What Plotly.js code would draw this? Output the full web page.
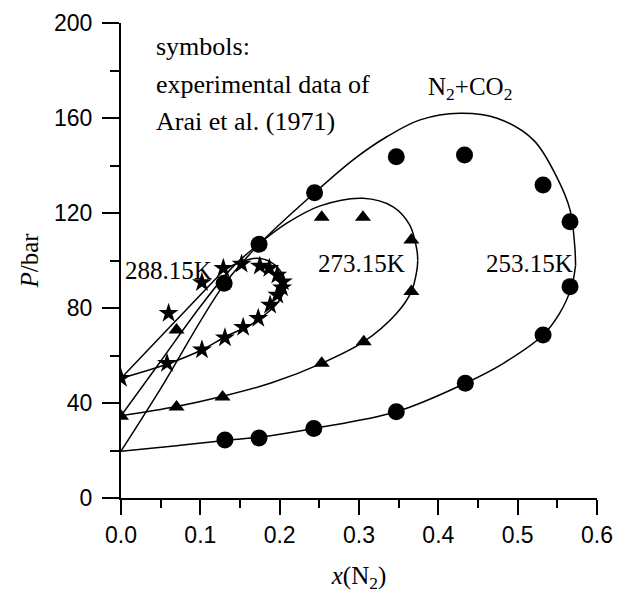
<!DOCTYPE html>
<html>
<head>
<meta charset="utf-8">
<script src="https://cdn.plot.ly/plotly-3.0.1.min.js"></script>
<style>
  html, body { margin: 0; padding: 0; background: #fff; }
  #chart { width: 618px; height: 595px; }
</style>
</head>
<body>
<div id="chart"></div>
<script>
// N2 + CO2 vapour-liquid equilibrium, P vs x(N2)

// 253.15 K experimental points
const exp253X = [0.131, 0.174, 0.243, 0.347, 0.434, 0.532, 0.566, 0.566, 0.532, 0.433, 0.347, 0.244, 0.174, 0.130];
const exp253P = [24.4, 25.3, 29.3, 36.3, 48.3, 68.6, 89.0, 116.3, 131.8, 144.4, 143.7, 128.5, 106.8, 90.4];

// 273.15 K experimental points
const exp273X = [0.0, 0.070, 0.128, 0.253, 0.306, 0.366, 0.366, 0.305, 0.253, 0.070];
const exp273P = [34.4, 38.3, 42.5, 56.7, 65.8, 86.9, 108.6, 118.2, 118.2, 70.7];

// 288.15 K experimental points
const exp288X = [0.0, 0.058, 0.102, 0.131, 0.154, 0.173, 0.188, 0.197, 0.203, 0.204, 0.197, 0.187, 0.175, 0.152, 0.129, 0.102, 0.060];
const exp288P = [50.4, 56.7, 62.4, 67.5, 71.9, 75.7, 81.3, 85.5, 88.5, 91.1, 93.9, 96.7, 97.7, 98.5, 96.7, 90.7, 77.8];

// Calculated envelopes: upper (dew) and lower (bubble) branches,
// each running from pure CO2 (x = 0) to the right-hand turning point
const dew253X = [0, 0.049, 0.128, 0.174, 0.244, 0.293, 0.335, 0.377, 0.427, 0.474, 0.52, 0.549, 0.566, 0.572, 0.573];
const dew253P = [19.7, 45.5, 89.0, 106.8, 128.5, 142.5, 152.1, 159.2, 162.0, 159.9, 150.7, 135.3, 121.3, 105.8, 98.0];
const bub253X = [0, 0.07, 0.131, 0.174, 0.243, 0.347, 0.434, 0.482, 0.532, 0.553, 0.568, 0.573];
const bub253P = [19.7, 22.0, 24.2, 25.6, 29.3, 36.3, 48.3, 56.7, 68.6, 77.8, 89.0, 98.0];

const dew273X = [0, 0.05, 0.10, 0.14, 0.174, 0.209, 0.251, 0.305, 0.343, 0.364, 0.373, 0.374];
const dew273P = [34.6, 57.6, 80.6, 97.0, 107.0, 115.7, 123.0, 126.2, 122.6, 114.9, 104.4, 100.0];
const bub273X = [0, 0.07, 0.127, 0.19, 0.253, 0.306, 0.3475, 0.366, 0.373, 0.374];
const bub273P = [34.6, 38.5, 42.7, 48.5, 56.7, 65.8, 77.8, 86.9, 96.0, 100.0];

const dew288X = [0, 0.06, 0.118, 0.13, 0.152, 0.171, 0.188, 0.2, 0.206, 0.207];
const dew288P = [50.4, 71.5, 91.8, 96.0, 99.5, 100.9, 99.5, 96.0, 92.0, 89.5];
const bub288X = [0, 0.0576, 0.1017, 0.1332, 0.1626, 0.1837, 0.197, 0.2046, 0.207];
const bub288P = [50.4, 56.3, 62.3, 68.2, 72.8, 77.8, 82.0, 86.2, 89.5];

// Axis ticks
const xTicks = [0.0, 0.1, 0.2, 0.3, 0.4, 0.5, 0.6];
const yTicks = [0, 40, 80, 120, 160, 200];

const serif = 'Liberation Serif, Times New Roman, serif';
const sans = 'Liberation Sans, Arial, sans-serif';

function curve(x, y) {
  return { x: x, y: y, mode: 'lines', type: 'scatter', hoverinfo: 'skip',
           line: { color: '#000', width: 1.5, shape: 'spline', smoothing: 1 } };
}
function points(x, y, sym, size) {
  return { x: x, y: y, mode: 'markers', type: 'scatter',
           marker: { symbol: sym, size: size, color: '#000', line: { width: 0 } } };
}

const data = [
  curve(dew253X, dew253P), curve(bub253X, bub253P),
  curve(dew273X, dew273P), curve(bub273X, bub273P),
  curve(dew288X, dew288P), curve(bub288X, bub288P),
  points(exp253X, exp253P, 'circle', 17),
  points(exp273X, exp273P, 'triangle-up', 14),
  points(exp288X, exp288P, 'star', 15)
];

function label(text, x, y, xanchor, size) {
  return { text: text, x: x, y: y, xref: 'x', yref: 'y', showarrow: false,
           xanchor: xanchor || 'center', yanchor: 'middle',
           font: { family: serif, size: size || 26, color: '#000' } };
}

const layout = {
  width: 618, height: 595,
  margin: { l: 121, r: 21, t: 23, b: 97 },
  paper_bgcolor: '#fff', plot_bgcolor: '#fff',
  showlegend: false,
  xaxis: {
    range: [0, 0.6], tickvals: xTicks, ticktext: xTicks.map(v => v.toFixed(1)),
    showgrid: false, zeroline: false, showline: true, linecolor: '#000', linewidth: 2,
    ticks: 'outside', ticklen: 15, tickwidth: 2, tickcolor: '#000',
    minor: { dtick: 0.05, ticks: 'outside', ticklen: 8, tickwidth: 2, tickcolor: '#000' },
    tickfont: { family: sans, size: 23, color: '#000' },
    title: { text: '<i>x</i>(N<sub>2</sub>)', font: { family: serif, size: 25, color: '#000' }, standoff: 20 }
  },
  yaxis: {
    range: [0, 200], tickvals: yTicks,
    showgrid: false, zeroline: false, showline: true, linecolor: '#000', linewidth: 2,
    ticks: 'outside', ticklen: 17, tickwidth: 2, tickcolor: '#000',
    minor: { dtick: 20, ticks: 'outside', ticklen: 9, tickwidth: 2, tickcolor: '#000' },
    tickfont: { family: sans, size: 23, color: '#000' },
    ticklabelstandoff: 5,
    title: { text: '<i>P</i>/bar', font: { family: serif, size: 25, color: '#000' }, standoff: 8 }
  },
  annotations: [
    label('symbols:', 0.042, 190, 'left'),
    label('experimental data of', 0.042, 174.3, 'left'),
    label('Arai et al. (1971)', 0.042, 158.7, 'left'),
    label('N<sub>2</sub>+CO<sub>2</sub>', 0.44, 172.6, 'center', 25),
    label('288.15K', 0.060, 96, 'center', 25),
    label('273.15K', 0.303, 98.8, 'center', 25),
    label('253.15K', 0.515, 98.8, 'center', 25)
  ]
};

Plotly.newPlot('chart', data, layout, { displayModeBar: false, staticPlot: true });
</script>
</body>
</html>
